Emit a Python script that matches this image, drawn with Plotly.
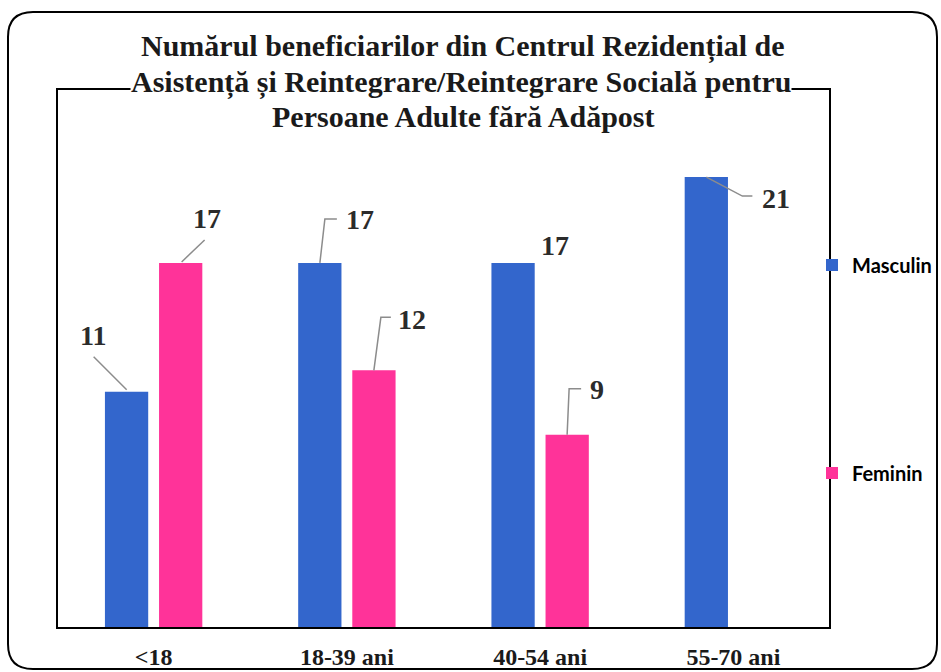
import plotly.graph_objects as go

categories = ["<18", "18-39 ani", "40-54 ani", "55-70 ani"]
masculin = [11, 17, 17, 21]
feminin = [17, 12, 9, None]
series_names = ["Masculin", "Feminin"]
title_lines = [
    "Numărul beneficiarilor din Centrul Rezidențial de",
    "Asistență și Reintegrare/Reintegrare Socială pentru",
    "Persoane Adulte fără Adăpost",
]

BLUE = "#3366CC"
PINK = "#FF3399"
W, H = 941, 672
ML, MR, MT, MB = 57, 111, 89, 44
PW, PH = W - ML - MR, H - MT - MB

def px2paper(x, y):
    return (x - ML) / PW, (H - MB - y) / PH

fig = go.Figure()
fig.add_trace(go.Bar(x=categories, y=masculin, name=series_names[0],
                     marker=dict(color=BLUE, line=dict(width=0)), legend="legend"))
fig.add_trace(go.Bar(x=categories, y=feminin, name=series_names[1],
                     marker=dict(color=PINK, line=dict(width=0)), legend="legend2"))

# label specs: (series index, category index) -> text offset and leader path (pixels)
label_specs = {
    (0, 0): dict(dx=-34, dy=56, path=[(0, 2), (-33, 35)]),
    (1, 0): dict(dx=26, dy=44, path=[(1, 1), (24, 23)]),
    (0, 1): dict(dx=40, dy=43, path=[(0, 0), (5, 44), (17, 44)]),
    (1, 1): dict(dx=38, dy=51, path=[(0, 0), (7, 53), (17, 53)]),
    (0, 2): dict(dx=42, dy=17, path=None),
    (1, 2): dict(dx=30, dy=45, path=[(0, 0), (2, 46), (14, 46)]),
    (0, 3): dict(dx=70, dy=-21, path=[(0, 0), (36, -19), (46, -19)]),
}
offset = 0.1397
for (si, ci), spec in label_specs.items():
    vals = masculin if si == 0 else feminin
    v = vals[ci]
    if v is None:
        continue
    xc = ci + (-offset if si == 0 else offset)
    fig.add_annotation(x=xc, y=v, xref="x", yref="y", text=f"<b>{v}</b>", showarrow=False,
                       xshift=spec["dx"], yshift=spec["dy"],
                       font=dict(family="Liberation Serif", size=28, color="#2b2b2b"),
                       xanchor="center", yanchor="middle")
    if spec["path"]:
        p = "M " + " L ".join(f"{a},{b}" for a, b in spec["path"])
        fig.add_shape(type="path", path=p, xref="x", yref="y",
                      xsizemode="pixel", ysizemode="pixel", xanchor=xc, yanchor=v,
                      line=dict(color="#8c8c8c", width=1.5), layer="above")

# inner frame
fig.add_shape(type="rect", xref="paper", yref="paper", x0=0, x1=1, y0=0, y1=1,
              line=dict(color="black", width=2), layer="above")

# outer rounded border
x0, y0 = px2paper(8, 12)
x1, y1 = px2paper(937, 669)
rx = 25 / PW
ry = 25 / PH
path = (f"M {x0+rx},{y0} L {x1-rx},{y0} Q {x1},{y0} {x1},{y0-ry} "
        f"L {x1},{y1+ry} Q {x1},{y1} {x1-rx},{y1} L {x0+rx},{y1} "
        f"Q {x0},{y1} {x0},{y1+ry} L {x0},{y0-ry} Q {x0},{y0} {x0+rx},{y0} Z")
fig.add_shape(type="path", path=path, xref="paper", yref="paper",
              line=dict(color="black", width=2), layer="above")

# title, one annotation per line
for line, (cx, cy) in zip(title_lines, [(463, 47), (461, 82), (463, 116)]):
    tx, ty = px2paper(cx, cy)
    fig.add_annotation(x=tx, y=ty, xref="paper", yref="paper", showarrow=False,
                       text=f"<b>{line}</b>",
                       font=dict(family="Liberation Serif", size=30, color="#1a1a1a"),
                       bgcolor="white", xanchor="center", yanchor="middle", borderpad=0)

leg_x = px2paper(812, 0)[0]
leg_font = dict(family="Lato", size=20, color="black", weight="bold")
fig.update_layout(
    width=W, height=H,
    margin=dict(l=ML, r=MR, t=MT, b=MB, autoexpand=False),
    paper_bgcolor="white", plot_bgcolor="white",
    barmode="group", bargap=0.44, bargroupgap=0.2,
    showlegend=True,
    legend=dict(x=leg_x, y=px2paper(0, 265)[1], xanchor="left", yanchor="middle",
                itemwidth=30, font=leg_font, bgcolor="rgba(0,0,0,0)"),
    legend2=dict(x=leg_x, y=px2paper(0, 473)[1], xanchor="left", yanchor="middle",
                 itemwidth=30, font=leg_font, bgcolor="rgba(0,0,0,0)"),
    xaxis=dict(showgrid=False, showline=False, ticks="", ticklabelstandoff=12,
               tickfont=dict(family="Liberation Serif", size=24, color="#1a1a1a", weight="bold")),
    yaxis=dict(range=[0, 25.1], showgrid=False, showticklabels=False, zeroline=False,
               showline=False),
)
fig.write_html("out.html", config={"displayModeBar": False},
               post_script="document.body.style.margin='0';document.body.style.overflow='hidden';")
